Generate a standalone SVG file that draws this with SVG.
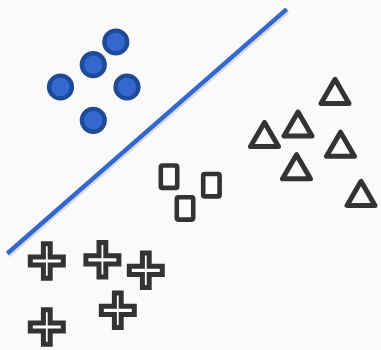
<svg xmlns="http://www.w3.org/2000/svg" width="381" height="350" viewBox="0 0 381 350">
<defs>
<style>
.dot{fill:#3468cf;stroke:#1f4a98;stroke-width:4.4}
.tri{fill:none;stroke:#333;stroke-width:5;stroke-linejoin:round}
.box{fill:#fff;stroke:#333;stroke-width:4.6}
.plus{fill:#fff;stroke:#333;stroke-width:5}
.sep{stroke:#3468cf;stroke-width:4.4;fill:none}
.shadow{stroke:#000;stroke-opacity:0.12;stroke-width:5;fill:none}
</style>
<path id="tri" class="tri" d="M0,-12.5 L-14,11.6 L14,11.6 Z"/>
<path id="plus" class="plus" d="M-3.4,-17.3 H3.4 V-4.1 H16.5 V4.1 H3.4 V17.3 H-3.4 V4.1 H-16.5 V-4.1 H-3.4 Z"/>
</defs>
<rect width="381" height="350" fill="#fafafa"/>
<g id="connectors">
<line class="shadow" x1="8.3" y1="255.3" x2="287.7" y2="11"/>
<line class="sep" x1="7.3" y1="253.5" x2="286.7" y2="9.2"/>
</g>
<g id="circle1"><circle class="dot" cx="115.8" cy="42" r="11.4"/></g>
<g id="circle2"><circle class="dot" cx="93.3" cy="64.7" r="11.4"/></g>
<g id="circle3"><circle class="dot" cx="60.5" cy="87" r="11.4"/></g>
<g id="circle4"><circle class="dot" cx="127" cy="87" r="11.4"/></g>
<g id="circle5"><circle class="dot" cx="93.3" cy="120.3" r="11.4"/></g>
<g id="tri1"><use href="#tri" x="335" y="91.8"/></g>
<g id="tri2"><use href="#tri" x="298" y="124.5"/></g>
<g id="tri3"><use href="#tri" x="264.5" y="135"/></g>
<g id="tri4"><use href="#tri" x="340.5" y="144.7"/></g>
<g id="tri5"><use href="#tri" x="296.5" y="167.2"/></g>
<g id="tri6"><use href="#tri" x="361" y="193.8"/></g>
<g id="rect1"><rect class="box" x="160.8" y="165.5" width="16.4" height="22.4" rx="1.5"/></g>
<g id="rect2"><rect class="box" x="176.8" y="197.2" width="16.4" height="22.4" rx="1.5"/></g>
<g id="rect3"><rect class="box" x="203.2" y="174" width="16.4" height="22.4" rx="1.5"/></g>
<g id="cross1"><use href="#plus" x="46.8" y="261"/></g>
<g id="cross2"><use href="#plus" x="102.4" y="259.8"/></g>
<g id="cross3"><use href="#plus" x="145.8" y="270.3"/></g>
<g id="cross4"><use href="#plus" x="117.8" y="310.3"/></g>
<g id="cross5"><use href="#plus" x="46.8" y="327"/></g>
</svg>
